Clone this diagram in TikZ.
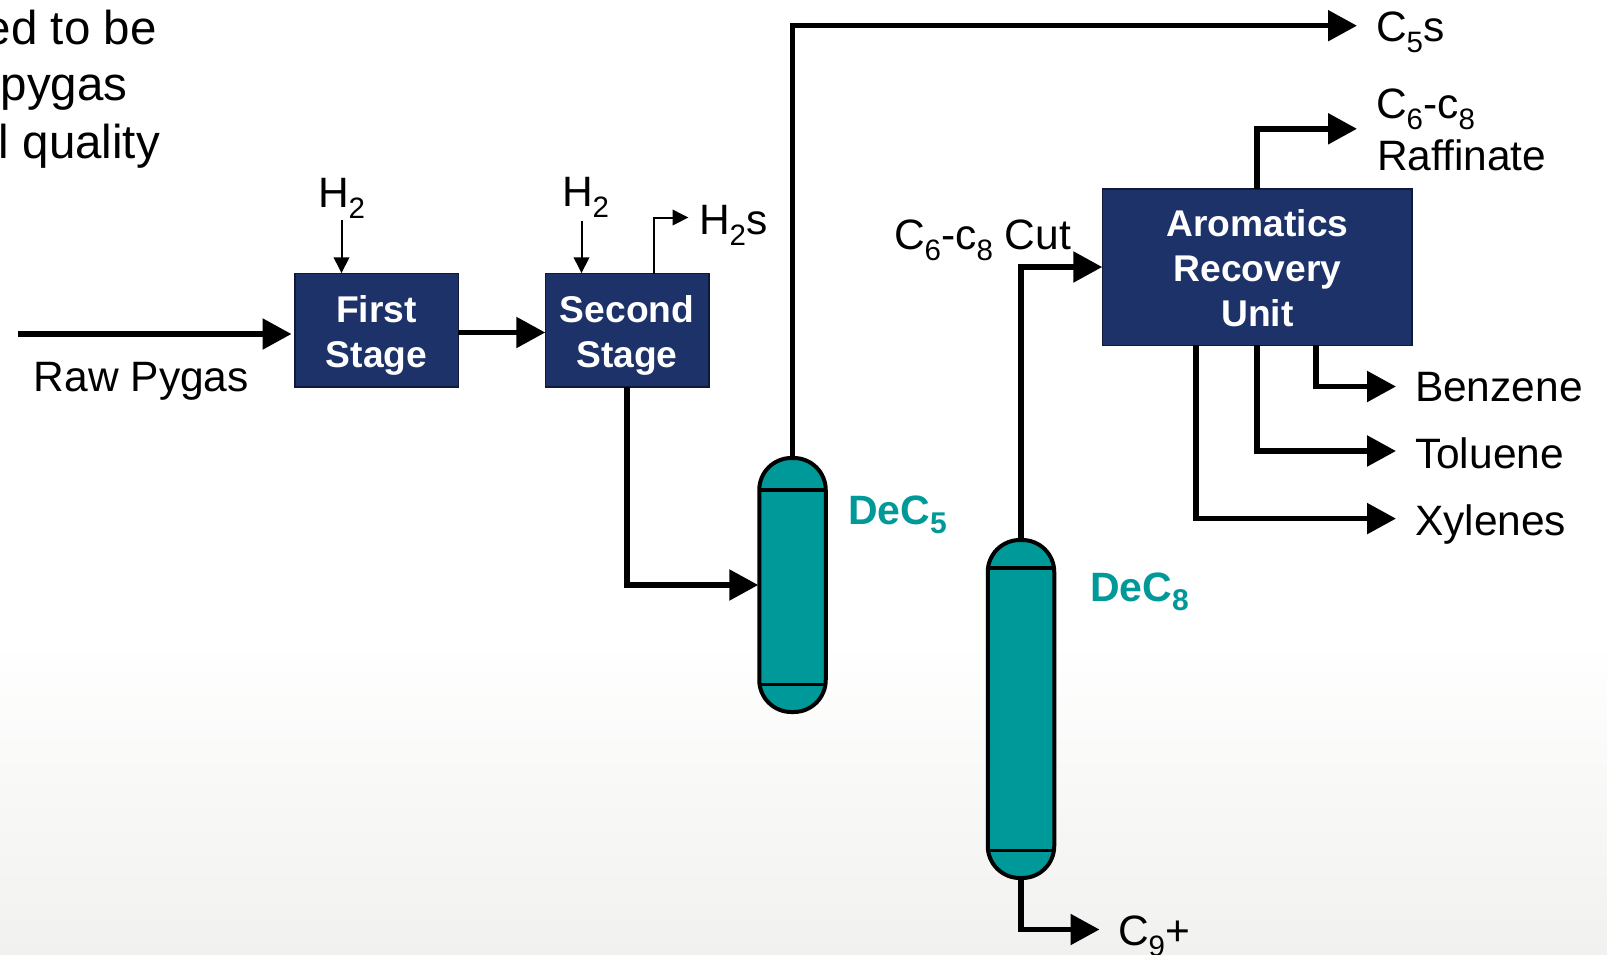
\documentclass[tikz,border=0pt]{standalone}
\usepackage{fontspec}
\setmainfont{Liberation Sans}
\usetikzlibrary{arrows.meta,calc}
\definecolor{navy}{HTML}{1D3269}
\definecolor{navyline}{HTML}{0E1A38}
\definecolor{teal1}{HTML}{009999}
\definecolor{bgbot}{HTML}{F1F1EF}
\newcommand{\sbx}[1]{\raisebox{-0.27em}{\fontsize{29.5}{29.5}\selectfont #1}}
\newcommand{\sbt}[1]{\raisebox{-0.22em}{\fontsize{30}{30}\selectfont\bfseries #1}}
\tikzset{
  lab/.style={anchor=base west,inner sep=0pt,outer sep=0pt,font=\fontsize{42.5}{50}\selectfont,text=black},
  bigtext/.style={anchor=base east,inner sep=0pt,outer sep=0pt,font=\fontsize{47.5}{57}\selectfont,text=black},
  tealab/.style={anchor=base west,inner sep=0pt,outer sep=0pt,font=\fontsize{41}{50}\selectfont\bfseries,text=teal1},
  unit/.style={draw=navyline,line width=1.5pt,fill=navy,inner sep=0pt,outer sep=0pt},
  unittext/.style={text=white,align=center,inner sep=0pt,font=\fontsize{37.2}{45}\selectfont\bfseries},
  column/.style={draw=black,line width=4pt,fill=teal1,rounded corners=32pt,inner sep=0pt,outer sep=1pt},
  tray/.style={draw=black,line width=3.2pt},
  flow/.style={draw=black,line width=5.5pt,-{Triangle[length=29pt,width=30pt]}},
  feed/.style={draw=black,line width=2pt,-{Triangle[length=16pt,width=15.5pt]}},
}
\begin{document}
\begin{tikzpicture}[x=1pt,y=-1pt]
\useasboundingbox (0,0) rectangle (1607,954);
\fill[white] (0,0) rectangle (1607,954);
\shade[top color=white,bottom color=bgbot] (0,640) rectangle (1607,954);

\begin{scope}
\clip (0,0) rectangle (1607,954);
\node[bigtext] (t1) at (156.5,44) {ed to be};
\node[bigtext] (t2) at (127.5,100.5) {pygas};
\node[bigtext] (t3) at (160,158) {l quality};
\end{scope}

% units
\node[unit,minimum width=163.5pt,minimum height=113.5pt] (s1) at (376.5,330) {};
\node[unittext] (s1t) at (376.5,335) {First\\Stage};
\node[unit,minimum width=163.5pt,minimum height=113.5pt] (s2) at (627,330) {};
\node[unittext] (s2t) at (627,335) {Second\\Stage};
\node[unit,minimum width=309.5pt,minimum height=156.5pt] (aru) at (1257,267) {};
\node[unittext] (arut) at (1257.5,268) {Aromatics\\Recovery\\Unit};

% columns
\node[column,minimum width=66.5pt,minimum height=254pt] (c5) at (792.5,585) {};
\node[column,minimum width=66.5pt,minimum height=338pt] (c8) at (1021,709) {};
\draw[tray] (c5.west |- 0,490) -- (c5.east |- 0,490);
\draw[tray] (c5.west |- 0,684.5) -- (c5.east |- 0,684.5);
\draw[tray] (c8.west |- 0,568) -- (c8.east |- 0,568);
\draw[tray] (c8.west |- 0,850.5) -- (c8.east |- 0,850.5);

% labels
\node[lab] (raw) at (34,391) {Raw Pygas};
\node[lab] (h1) at (318,207) {H\sbx{2}};
\node[lab] (h2) at (562,206.5) {H\sbx{2}};
\node[lab] (h2s) at (699,234) {H\sbx{2}s};
\node[lab] (c5s) at (1376,41) {C\sbx{5}s};
\node[lab] (rafa) at (1376,118) {C\sbx{6}-c\sbx{8}};
\node[lab] (rafb) at (1377,170) {Raffinate};
\node[lab] (cut) at (894,249) {C\sbx{6}-c\sbx{8} Cut};
\node[lab] (ben) at (1415,401) {Benzene};
\node[lab] (tol) at (1415,468) {Toluene};
\node[lab] (xyl) at (1415,535) {Xylenes};
\node[lab] (c9) at (1118,945) {C\sbx{9}+};
\node[tealab] (d5) at (848,524) {DeC\sbt{5}};
\node[tealab] (d8) at (1090,601) {DeC\sbt{8}};

% free ends and targets
\coordinate (rawstart) at (18,334);
\coordinate (rawend) at (291.5,334);
\coordinate (h1start) at (341.5,220);
\coordinate (h2start) at (581.5,221);
\coordinate (h2send) at (688.5,217.5);
\coordinate (c5send) at (1357,25.7);
\coordinate (rafend) at (1357,128.8);
\coordinate (benend) at (1396,386.5);
\coordinate (tolend) at (1396,451);
\coordinate (xylend) at (1396,518.6);
\coordinate (c9end) at (1099.5,929.5);

% connectors
\draw[flow] (rawstart) -- (rawend);
\draw[flow] (s1.east |- 0,332.5) -- (s2.west |- 0,332.5);
\draw[feed] (h1start) -- (h1start |- s1.north);
\draw[feed] (h2start) -- (h2start |- s2.north);
\draw[feed] (h2send -| 654,0) ++(0,56) -- ++(0,-56) -- (h2send);
\draw[flow] (s2.south) |- (c5.west);
\draw[flow] (c5.north) |- (c5send);
\draw[flow] (c8.north) |- (aru.west);
\draw[flow] (aru.north) |- (rafend);
\draw[flow] (aru.south -| 1316,0) |- (benend);
\draw[flow] (aru.south) |- (tolend);
\draw[flow] (aru.south -| 1196,0) |- (xylend);
\draw[flow] (c8.south) |- (c9end);
\end{tikzpicture}
\end{document}
